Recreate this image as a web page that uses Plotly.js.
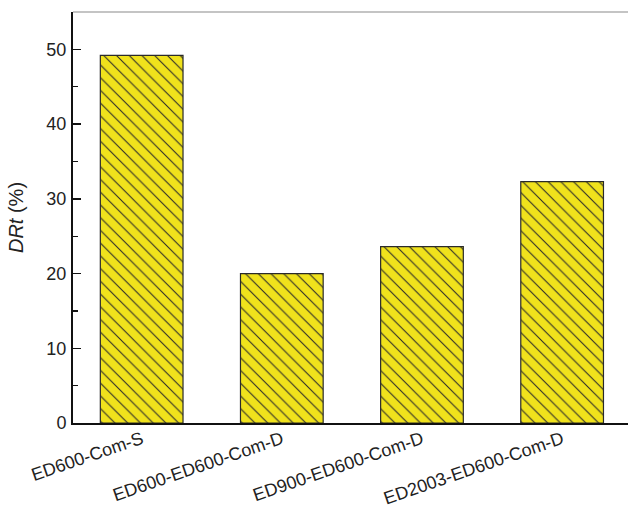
<!DOCTYPE html>
<html>
<head>
<meta charset="utf-8">
<script src="https://cdn.plot.ly/plotly-3.0.1.min.js"></script>
<style>html,body{margin:0;padding:0;background:#fff;}#chart{width:628px;height:511px;}</style>
</head>
<body>
<div id="chart"></div>
<script>
// Drag reduction rate per configuration
const categories = ["ED600-Com-S", "ED600-ED600-Com-D", "ED900-ED600-Com-D", "ED2003-ED600-Com-D"];
const drtValues = [49.2, 20.0, 23.6, 32.3];
const yTickValues = [0, 10, 20, 30, 40, 50];
const yTickLabels = ["0", "10", "20", "30", "40", "50"];

const fontFamily = "Arial, 'Liberation Sans', sans-serif";

const trace = {
  type: "bar",
  x: categories,
  y: drtValues,
  width: 0.59,
  marker: {
    color: "#f0e21c",
    line: { color: "#2a2a2a", width: 1.2 },
    pattern: { shape: "\\", size: 9, solidity: 0.12, fgcolor: "#2a2a2a", bgcolor: "#f0e21c" }
  },
  hoverinfo: "none"
};

const layout = {
  width: 628,
  height: 511,
  margin: { l: 73, r: 0, t: 12, b: 88 },
  paper_bgcolor: "#ffffff",
  plot_bgcolor: "#ffffff",
  showlegend: false,
  font: { family: fontFamily, color: "#222" },
  xaxis: {
    range: [-0.49, 3.47],
    showgrid: false,
    zeroline: false,
    showline: true,
    linecolor: "#111",
    linewidth: 2,
    ticks: "",
    tickangle: -19,
    ticklabelstandoff: -3,
    tickfont: { family: fontFamily, size: 18, color: "#222" }
  },
  yaxis: {
    range: [0, 55],
    showgrid: false,
    zeroline: false,
    showline: true,
    linecolor: "#111",
    linewidth: 2,
    ticks: "inside",
    ticklen: 8,
    tickwidth: 1.5,
    tickcolor: "#111",
    ticklabelstandoff: 1,
    tickvals: yTickValues,
    ticktext: yTickLabels,
    tickfont: { family: fontFamily, size: 18, color: "#222" },
    minor: { dtick: 5, ticks: "inside", ticklen: 5, tickwidth: 1.2, tickcolor: "#111" },
    title: { text: "<i>DRt</i> (%)", font: { family: fontFamily, size: 20, color: "#222" }, standoff: 17 }
  },
  shapes: [
    {
      type: "line", xref: "paper", yref: "paper",
      x0: 0, x1: 1, y0: 1, y1: 1,
      line: { color: "#8a8a8a", width: 1.2 }
    }
  ]
};

Plotly.newPlot("chart", [trace], layout, { staticPlot: true, displayModeBar: false });
</script>
</body>
</html>
